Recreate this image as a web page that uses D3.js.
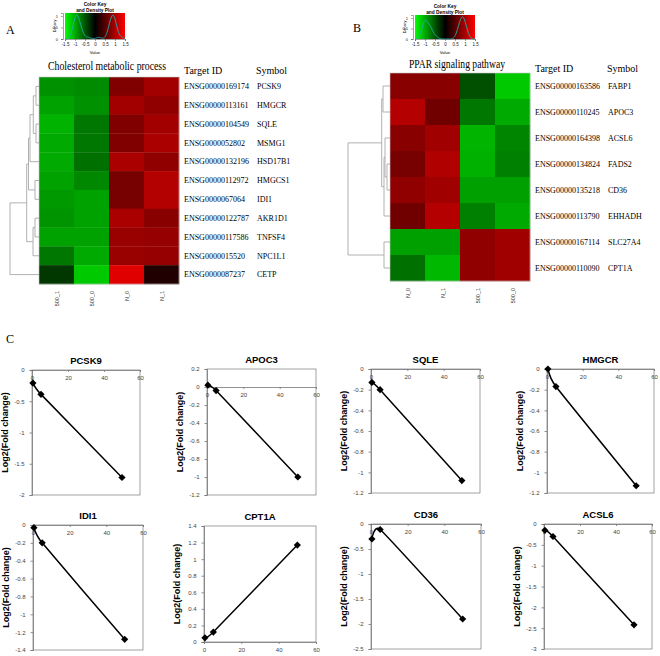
<!DOCTYPE html>
<html>
<head>
<meta charset="utf-8">
<script src="https://cdn.jsdelivr.net/npm/d3@7"></script>
<style>
  body { margin: 0; background: #fff; }
  svg { display: block; }
</style>
</head>
<body>
<script>
// heatmap A - cholesterol metabolic process (row z-scores)
var colsA = ["500_1", "500_0", "N_0", "N_1"];
var idsA = ["ENSG00000169174", "ENSG00000113161", "ENSG00000104549", "ENSG0000052802",
  "ENSG00000132196", "ENSG00000112972", "ENSG0000067064", "ENSG00000122787",
  "ENSG00000117586", "ENSG0000015520", "ENSG0000087237"];
var symA = ["PCSK9", "HMGCR", "SQLE", "MSMG1", "HSD17B1", "HMGCS1", "IDI1", "AKR1D1", "TNFSF4", "NPC1L1", "CETP"];
var valsA = [
  [-0.85, -0.82, 0.75, 0.95],
  [-0.95, -0.85, 0.95, 0.85],
  [-1.05, -0.70, 0.75, 0.95],
  [-1.00, -0.70, 0.75, 1.00],
  [-1.00, -0.66, 1.00, 0.85],
  [-0.95, -0.80, 0.70, 1.05],
  [-0.90, -0.95, 0.70, 1.05],
  [-0.87, -0.95, 1.00, 0.80],
  [-0.95, -0.95, 0.90, 0.88],
  [-0.70, -1.00, 0.90, 0.88],
  [-0.33, -1.18, 1.32, 0.19]
];
// row tree A: leaves are row indexes, h = merge height
var treeA = {h: 29, c: [
  {h: 12.3, c: [
    {h: 10.5, c: [
      {h: 9, c: [{h: 5.7, c: [{h: 3, c: [0, 1]}, {h: 3, c: [2, 3]}]}, 4]},
      {h: 4, c: [5, 6]}
    ]},
    {h: 6, c: [{h: 4, c: [7, 8]}, 9]}
  ]},
  10
]};

// heatmap B - PPAR signaling pathway
var colsB = ["N_0", "N_1", "500_1", "500_0"];
var idsB = ["ENSG00000163586", "ENSG00000110245", "ENSG00000164398", "ENSG00000134824",
  "ENSG00000135218", "ENSG00000113790", "ENSG00000167114", "ENSG00000110090"];
var symB = ["FABP1", "APOC3", "ACSL6", "FADS2", "CD36", "EHHADH", "SLC27A4", "CPT1A"];
var valsB = [
  [0.80, 0.80, -0.47, -1.18],
  [1.06, 0.66, -0.70, -1.00],
  [0.80, 0.94, -1.06, -0.78],
  [0.70, 1.04, -1.04, -0.75],
  [0.85, 0.94, -0.94, -0.94],
  [0.66, 1.06, -0.75, -1.00],
  [-0.94, -0.94, 0.85, 0.94],
  [-0.66, -1.08, 0.85, 0.94]
];
var treeB = {h: 42, c: [
  {h: 8.3, c: [{h: 7, c: [0, 1]}, {h: 6, c: [{h: 5, c: [2, {h: 3, c: [3, 4]}]}, 5]}]},
  {h: 6, c: [6, 7]}
]};

// panel C - qPCR log2 fold change vs dose
var geneNames = ["PCSK9", "APOC3", "SQLE", "HMGCR", "IDI1", "CPT1A", "CD36", "ACSL6"];
var doses = [0.5, 5, 50];
var foldVals = [
  [-0.21, -0.39, -1.72],
  [0.02, -0.04, -1.0],
  [-0.13, -0.2, -1.08],
  [0, -0.17, -1.13],
  [-0.03, -0.2, -1.28],
  [0.05, 0.12, 1.17],
  [-0.3, -0.11, -1.9],
  [-0.15, -0.3, -2.42]
];
var yDomains = [[-2, 0], [-1.2, 0.2], [-1.2, 0], [-1.2, 0], [-1.4, 0], [0, 1.4], [-2.5, 0], [-3, 0]];
var ySteps = [0.5, 0.2, 0.2, 0.2, 0.2, 0.2, 0.5, 0.5];
var xTicks = [0, 20, 40, 60];
var keyTicks = [-1.5, -1, -0.5, 0, 0.5, 1, 1.5];

var serif = "'Liberation Serif', 'Times New Roman', serif";
var sans = "'Liberation Sans', Arial, sans-serif";

var svg = d3.select("body").append("svg")
  .attr("width", 660)
  .attr("height", 656);

var heatColor = d3.scaleLinear()
  .domain([-1.5, 0, 1.5])
  .range(["#00ff00", "#000000", "#ff0000"]);

var defs = svg.append("defs");
var grad = defs.append("linearGradient").attr("id", "keygrad");
grad.append("stop").attr("offset", "0%").attr("stop-color", heatColor(-1.5));
grad.append("stop").attr("offset", "50%").attr("stop-color", heatColor(0));
grad.append("stop").attr("offset", "100%").attr("stop-color", heatColor(1.5));

function label(x, y, txt, size, opts) {
  opts = opts || {};
  return svg.append("text")
    .attr("x", x)
    .attr("y", y)
    .attr("font-family", opts.family || serif)
    .attr("font-size", size)
    .attr("font-weight", opts.weight || "normal")
    .attr("text-anchor", opts.anchor || "start")
    .attr("fill", opts.fill || "#000")
    .text(txt);
}

// colour key with a kernel density of the heatmap values
var drawKey = function(x0, x1, y0, y1, values) {
  var g = svg.append("g");
  var kx = d3.scaleLinear().domain([-1.5, 1.5]).range([x0, x1]);
  g.append("rect")
    .attr("x", x0).attr("y", y0)
    .attr("width", x1 - x0).attr("height", y1 - y0)
    .attr("fill", "url(#keygrad)");

  var flat = d3.merge(values);
  var bw = 0.13;
  var grid = d3.range(-1.5, 1.5001, 0.02);
  var dens = grid.map(function(v) {
    var s = d3.sum(flat, function(d) {
      var u = (v - d) / bw;
      return Math.exp(-0.5 * u * u);
    });
    return [v, s / (flat.length * bw * Math.sqrt(2 * Math.PI))];
  });
  var ky = d3.scaleLinear()
    .domain([0, d3.max(dens, function(d) { return d[1]; }) * 1.08])
    .range([y1, y0]);
  g.append("path")
    .datum(dens)
    .attr("fill", "none")
    .attr("stroke", "#1fb0b0")
    .attr("stroke-width", 0.9)
    .attr("d", d3.line().x(function(d) { return kx(d[0]); }).y(function(d) { return ky(d[1]); }));

  var ax = g.append("g")
    .attr("transform", "translate(0," + y1 + ")")
    .call(d3.axisBottom(kx).tickValues(keyTicks).tickSize(2).tickFormat(function(d) { return String(d); }));
  ax.selectAll("text").attr("font-size", 4.5).attr("font-family", sans).attr("dy", "0.5em").attr("fill", "#222");
  ax.selectAll("line, path").attr("stroke", "#444").attr("stroke-width", 0.5);

  var ay = g.append("g")
    .attr("transform", "translate(" + (x0 - 2) + ",0)")
    .call(d3.axisLeft(ky).ticks(2).tickSize(2).tickFormat(d3.format("~g")));
  ay.selectAll("text").attr("font-size", 4).attr("font-family", sans).attr("fill", "#222");
  ay.selectAll("line, path").attr("stroke", "#444").attr("stroke-width", 0.5);

  var cx = (x0 + x1) / 2;
  label(cx, y0 - 7, "Color Key", 4.8, {family: sans, weight: "bold", anchor: "middle"});
  label(cx, y0 - 1.5, "and Density Plot", 4.8, {family: sans, weight: "bold", anchor: "middle"});
  label(cx, y1 + 15, "Value", 4.2, {family: sans, anchor: "middle"});
  svg.append("text")
    .attr("transform", "translate(" + (x0 - 9) + "," + ((y0 + y1) / 2) + ") rotate(-90)")
    .attr("font-family", sans).attr("font-size", 3.8)
    .attr("text-anchor", "middle")
    .text("Density");
};

// heatmap with row dendrogram on the left
var drawHeatmap = function(cfg) {
  var x = d3.scaleBand().domain(cfg.cols).range([cfg.x0, cfg.x1]);
  var y = d3.scaleBand().domain(d3.range(cfg.vals.length)).range([cfg.y0, cfg.y1]);
  var g = svg.append("g");

  cfg.vals.forEach(function(row, r) {
    row.forEach(function(v, c) {
      g.append("rect")
        .attr("x", x(cfg.cols[c]))
        .attr("y", y(r))
        .attr("width", x.bandwidth() + 0.3)
        .attr("height", y.bandwidth() + 0.3)
        .attr("fill", heatColor(v));
    });
  });
  g.append("rect")
    .attr("x", cfg.x0).attr("y", cfg.y0)
    .attr("width", cfg.x1 - cfg.x0).attr("height", cfg.y1 - cfg.y0)
    .attr("fill", "none").attr("stroke", "#c8c8c8").attr("stroke-width", 0.6);

  // column labels, rotated
  cfg.cols.forEach(function(c) {
    svg.append("text")
      .attr("transform", "translate(" + (x(c) + x.bandwidth() / 2 + 2) + "," + (cfg.y1 + 7) + ") rotate(-90)")
      .attr("font-family", sans).attr("font-size", 5.5)
      .attr("text-anchor", "end")
      .attr("fill", "#333")
      .text(c);
  });

  // row labels
  cfg.ids.forEach(function(id, r) {
    var cy = y(r) + y.bandwidth() / 2 + 2.8;
    label(cfg.idX, cy, id, 8);
    label(cfg.symX, cy, cfg.syms[r], 8);
  });
  label(cfg.idX, cfg.headY, "Target ID", 10);
  label(cfg.symX - 1, cfg.headY, "Symbol", 10);
  label(cfg.titleX, cfg.titleY, cfg.title, 11.5, {anchor: "middle"})
    .attr("textLength", cfg.titleW)
    .attr("lengthAdjust", "spacingAndGlyphs");

  // dendrogram
  var hx = d3.scaleLinear().domain([0, cfg.tree.h]).range([cfg.x0, cfg.rootX]);
  var dg = svg.append("g").attr("stroke", "#a8a8a8").attr("stroke-width", 0.9).attr("fill", "none");
  var walk = function(node) {
    if (typeof node === "number") {
      return {y: y(node) + y.bandwidth() / 2, h: 0};
    }
    var kids = node.c.map(walk);
    var nx = hx(node.h);
    kids.forEach(function(k) {
      dg.append("line").attr("x1", hx(k.h)).attr("x2", nx).attr("y1", k.y).attr("y2", k.y);
    });
    dg.append("line").attr("x1", nx).attr("x2", nx).attr("y1", kids[0].y).attr("y2", kids[kids.length - 1].y);
    return {y: d3.mean(kids, function(k) { return k.y; }), h: node.h};
  };
  walk(cfg.tree);
};

// panel labels
label(6, 34, "A", 12);
label(353, 32, "B", 12);
label(6, 343, "C", 12);

drawKey(65, 125, 13, 39, valsA);
drawKey(415, 475, 15, 39, valsB);

drawHeatmap({cols: colsA, vals: valsA, ids: idsA, syms: symA, tree: treeA,
  x0: 39, x1: 179, y0: 77, y1: 284, rootX: 10,
  idX: 184, symX: 257, headY: 74, titleX: 107, titleY: 70, titleW: 118,
  title: "Cholesterol metabolic process"});
drawHeatmap({cols: colsB, vals: valsB, ids: idsB, syms: symB, tree: treeB,
  x0: 390, x1: 530, y0: 73, y1: 281, rootX: 348,
  idX: 535, symX: 608, headY: 72, titleX: 457, titleY: 68, titleW: 96,
  title: "PPAR signaling pathway"});

// panel C: small excel-style line charts
var boxes = [
  [32, 370, 140, 495], [207, 369, 316, 495], [371, 369, 480, 493], [547, 369, 654, 493],
  [33, 525, 143, 650], [204, 526, 316, 642], [371, 524, 481, 649], [544, 524, 652, 649]
];

var fmt = function(v) { return String(+v.toFixed(1)); };

geneNames.forEach(function(name, i) {
  var b = boxes[i];
  var g = svg.append("g");
  var x = d3.scaleLinear().domain([0, 60]).range([b[0], b[2]]);
  var y = d3.scaleLinear().domain(yDomains[i]).range([b[3], b[1]]);
  var step = ySteps[i];
  var yt = d3.range(Math.round((yDomains[i][1] - yDomains[i][0]) / step) + 1)
    .map(function(k) { return +(yDomains[i][0] + k * step).toFixed(2); });

  g.append("rect")
    .attr("x", b[0]).attr("y", b[1])
    .attr("width", b[2] - b[0]).attr("height", b[3] - b[1])
    .attr("fill", "none").attr("stroke", "#8a8a8a").attr("stroke-width", 0.8);

  var ay = g.append("g")
    .attr("transform", "translate(" + b[0] + ",0)")
    .call(d3.axisLeft(y).tickValues(yt).tickSize(2.5).tickPadding(5).tickFormat(fmt));
  ay.selectAll("path, line").attr("stroke", "#777").attr("stroke-width", 0.8);
  ay.selectAll("text").attr("font-family", sans).attr("font-size", 6).attr("fill", "#444");

  var ax = g.append("g")
    .attr("transform", "translate(0," + y(0) + ")")
    .call(d3.axisBottom(x).tickValues(xTicks).tickSize(2).tickPadding(3.5).tickFormat(d3.format("d")));
  ax.selectAll("path, line").attr("stroke", "#777").attr("stroke-width", 0.8);
  ax.selectAll("text").attr("font-family", sans).attr("font-size", 6).attr("fill", "#444");

  var pts = doses.map(function(d, k) { return [d, foldVals[i][k]]; });
  g.append("path")
    .datum(pts)
    .attr("fill", "none")
    .attr("stroke", "#000")
    .attr("stroke-width", 1.5)
    .attr("d", d3.line()
      .x(function(d) { return x(d[0]); })
      .y(function(d) { return y(d[1]); })
      .curve(d3.curveCardinal.tension(0.6)));
  g.selectAll(".pt")
    .data(pts)
    .enter().append("path")
    .attr("transform", function(d) { return "translate(" + x(d[0]) + "," + y(d[1]) + ") rotate(45)"; })
    .attr("d", d3.symbol(d3.symbolSquare, 26))
    .attr("fill", "#000");

  label((b[0] + b[2]) / 2, b[1] - 6, name, 9.5, {family: sans, weight: "bold", anchor: "middle"});
  svg.append("text")
    .attr("transform", "translate(" + (b[0] - 24) + "," + ((b[1] + b[3]) / 2) + ") rotate(-90)")
    .attr("font-family", sans).attr("font-size", 9).attr("font-weight", "bold")
    .attr("text-anchor", "middle")
    .text("Log2(Fold change)");
});
</script>
</body>
</html>
